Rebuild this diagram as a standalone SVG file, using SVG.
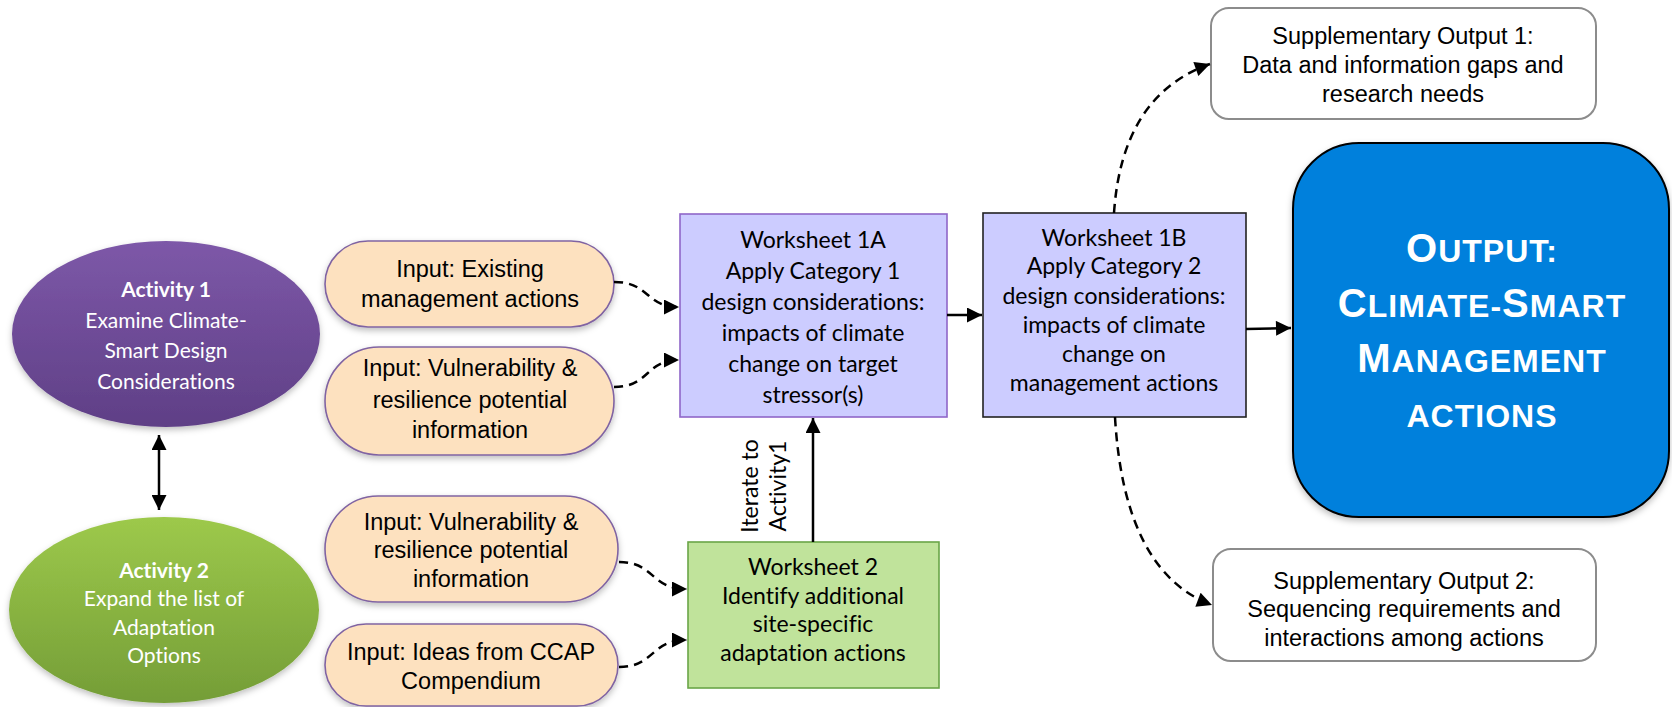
<svg xmlns="http://www.w3.org/2000/svg" width="1672" height="707" viewBox="0 0 1672 707">
<style>
.ell{font-family:Lato,"Liberation Sans",sans-serif;font-size:21px;fill:#fff;text-anchor:middle;font-variant-ligatures:none}
.pill{fill:#fde1bf;stroke:#8064a2;stroke-width:1.6}
.pt{font-family:"Liberation Sans",Arial,sans-serif;font-size:23.5px;fill:#000;text-anchor:middle}
.ws{font-family:Lato,"Liberation Sans",sans-serif;font-size:23px;fill:#000;text-anchor:middle;font-variant-ligatures:none}
.sup{fill:#fff;stroke:#8c8c8c;stroke-width:2}
.st{font-family:"Liberation Sans",Arial,sans-serif;font-size:23.5px;fill:#000;text-anchor:middle}
.out{font-family:"Liberation Sans",Arial,sans-serif;font-weight:bold;fill:#fff;text-anchor:middle;letter-spacing:1px}
.big{font-size:40px}
.sm{font-size:32px}
.solid{fill:none;stroke:#000;stroke-width:2.5}
.dash{fill:none;stroke:#000;stroke-width:2.5;stroke-dasharray:9 6}
</style>
<defs>
<linearGradient id="gp" x1="0" y1="0" x2="0" y2="1">
<stop offset="0" stop-color="#7d58a8"/>
<stop offset="1" stop-color="#5f3f86"/>
</linearGradient>
<linearGradient id="gg" x1="0" y1="0" x2="0" y2="1">
<stop offset="0" stop-color="#9dc94b"/>
<stop offset="1" stop-color="#749d37"/>
</linearGradient>
<filter id="sh" x="-10%" y="-10%" width="120%" height="130%">
<feDropShadow dx="0" dy="3" stdDeviation="3" flood-color="#000" flood-opacity="0.25"/>
</filter>
<marker id="ah" viewBox="0 0 10 10" refX="10" refY="5" markerWidth="6.5" markerHeight="6" markerUnits="strokeWidth" orient="auto-start-reverse">
<path d="M0,0 L10,5 L0,10 z" fill="#000"/>
</marker>
</defs>

<g id="activity1">
<ellipse cx="166" cy="334" rx="154" ry="93" fill="url(#gp)" filter="url(#sh)"/>
<text class="ell" x="166" y="297" font-weight="bold">Activity 1</text>
<text class="ell" x="166" y="328">Examine Climate-</text>
<text class="ell" x="166" y="358">Smart Design</text>
<text class="ell" x="166" y="389">Considerations</text>
</g>

<g id="activity2">
<ellipse cx="164" cy="610" rx="155" ry="93" fill="url(#gg)" filter="url(#sh)"/>
<text class="ell" x="164" y="578" font-weight="bold">Activity 2</text>
<text class="ell" x="164" y="606">Expand the list of</text>
<text class="ell" x="164" y="635">Adaptation</text>
<text class="ell" x="164" y="663">Options</text>
</g>

<g id="input1">
<rect class="pill" x="325" y="241" width="289" height="86" rx="43" filter="url(#sh)"/>
<text class="pt" x="470" y="277">Input: Existing</text>
<text class="pt" x="470" y="307">management actions</text>
</g>

<g id="input2">
<rect class="pill" x="325" y="347" width="289" height="108" rx="54" filter="url(#sh)"/>
<text class="pt" x="470" y="376">Input: Vulnerability &amp;</text>
<text class="pt" x="470" y="408">resilience potential</text>
<text class="pt" x="470" y="438">information</text>
</g>

<g id="input3">
<rect class="pill" x="325" y="496" width="293" height="106" rx="53" filter="url(#sh)"/>
<text class="pt" x="471" y="530">Input: Vulnerability &amp;</text>
<text class="pt" x="471" y="558">resilience potential</text>
<text class="pt" x="471" y="587">information</text>
</g>

<g id="input4">
<rect class="pill" x="325" y="624" width="293" height="82" rx="41" filter="url(#sh)"/>
<text class="pt" x="471" y="660">Input: Ideas from CCAP</text>
<text class="pt" x="471" y="689">Compendium</text>
</g>

<g id="worksheet1a">
<rect x="680" y="214" width="267" height="203" fill="#ccccff" stroke="#8f66c9" stroke-width="1.6"/>
<text class="ws" x="813" y="248">Worksheet 1A</text>
<text class="ws" x="813" y="279">Apply Category 1</text>
<text class="ws" x="813" y="310">design considerations:</text>
<text class="ws" x="813" y="341">impacts of climate</text>
<text class="ws" x="813" y="372">change on target</text>
<text class="ws" x="813" y="403">stressor(s)</text>
</g>

<g id="worksheet1b">
<rect x="983" y="213" width="263" height="204" fill="#ccccff" stroke="#222" stroke-width="1.6"/>
<text class="ws" x="1114" y="246">Worksheet 1B</text>
<text class="ws" x="1114" y="274">Apply Category 2</text>
<text class="ws" x="1114" y="304">design considerations:</text>
<text class="ws" x="1114" y="333">impacts of climate</text>
<text class="ws" x="1114" y="362">change on</text>
<text class="ws" x="1114" y="391">management actions</text>
</g>

<g id="worksheet2">
<rect x="688" y="542" width="251" height="146" fill="#c0e39b" stroke="#6aa548" stroke-width="1.6"/>
<text class="ws" x="813" y="575">Worksheet 2</text>
<text class="ws" x="813" y="604">Identify additional</text>
<text class="ws" x="813" y="632">site-specific</text>
<text class="ws" x="813" y="661">adaptation actions</text>
</g>

<g id="output">
<rect x="1293" y="143" width="376" height="374" rx="66" fill="#0680dc" stroke="#000" stroke-width="2" filter="url(#sh)"/>
<text class="out" x="1482" y="262"><tspan class="big">O</tspan><tspan class="sm">UTPUT:</tspan></text>
<text class="out" x="1482" y="317"><tspan class="big">C</tspan><tspan class="sm">LIMATE-</tspan><tspan class="big">S</tspan><tspan class="sm">MART</tspan></text>
<text class="out" x="1482" y="372"><tspan class="big">M</tspan><tspan class="sm">ANAGEMENT</tspan></text>
<text class="out" x="1482" y="427"><tspan class="sm">ACTIONS</tspan></text>
</g>

<g id="supp1">
<rect class="sup" x="1211" y="8" width="385" height="111" rx="18"/>
<text class="st" x="1403" y="44">Supplementary Output 1:</text>
<text class="st" x="1403" y="73">Data and information gaps and</text>
<text class="st" x="1403" y="102">research needs</text>
</g>

<g id="supp2">
<rect class="sup" x="1213" y="549" width="383" height="112" rx="18"/>
<text class="st" x="1404" y="589">Supplementary Output 2:</text>
<text class="st" x="1404" y="617">Sequencing requirements and</text>
<text class="st" x="1404" y="646">interactions among actions</text>
</g>

<g id="connectors">
<path class="solid" d="M159,435 L159,510" marker-start="url(#ah)" marker-end="url(#ah)"/>
<path class="dash" d="M614,282 C650,282 645,307 679,307" marker-end="url(#ah)"/>
<path class="dash" d="M614,387 C650,387 645,360 679,360" marker-end="url(#ah)"/>
<path class="dash" d="M619,562 C655,562 650,589 687,589" marker-end="url(#ah)"/>
<path class="dash" d="M619,667 C655,667 650,640 687,640" marker-end="url(#ah)"/>
<path class="solid" d="M813,542 L813,418" marker-end="url(#ah)"/>
<text class="ws" transform="rotate(-90 758 486)" x="758" y="486">Iterate to</text>
<text class="ws" transform="rotate(-90 786 486)" x="786" y="486">Activity1</text>
<path class="solid" d="M947,315 L982,315" marker-end="url(#ah)"/>
<path class="solid" d="M1246,329 L1291,328" marker-end="url(#ah)"/>
<path class="dash" d="M1114,213 Q1122,95 1210,64" marker-end="url(#ah)"/>
<path class="dash" d="M1115,417 Q1124,572 1212,605" marker-end="url(#ah)"/>
</g>
</svg>
